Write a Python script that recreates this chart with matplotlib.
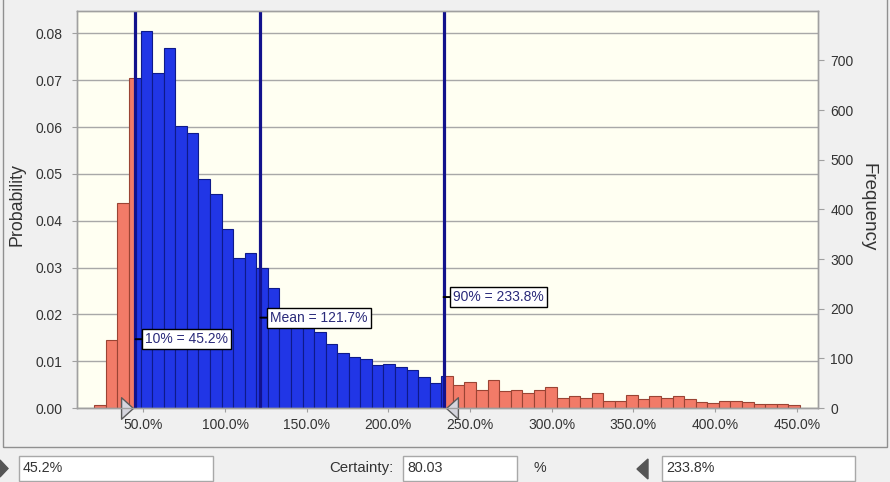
import matplotlib
matplotlib.use("Agg")
import matplotlib.pyplot as plt
import matplotlib.transforms as mtransforms
from matplotlib.patches import Rectangle, Polygon
from matplotlib.path import Path
import numpy as np

plt.rcParams['font.family'] = ['Liberation Sans', 'DejaVu Sans']

# forecast histogram (x in percent)
bin_start = 20.0
bin_width = 7.08
probability = [
    0.0006, 0.0146, 0.0438, 0.0705, 0.0806, 0.0716, 0.0769, 0.0602, 0.0588, 0.0489,
    0.0458, 0.0382, 0.0321, 0.0331, 0.0299, 0.0257, 0.0190, 0.0186, 0.0180, 0.0162,
    0.0136, 0.0118, 0.0110, 0.0104, 0.0091, 0.0093, 0.0088, 0.0081, 0.0066, 0.0053,
    0.0068, 0.0050, 0.0056, 0.0039, 0.0059, 0.0036, 0.0039, 0.0031, 0.0039, 0.0045,
    0.0021, 0.0025, 0.0021, 0.0031, 0.0016, 0.0016, 0.0028, 0.0019, 0.0025, 0.0022,
    0.0025, 0.0019, 0.0012, 0.0011, 0.0014, 0.0014, 0.0012, 0.0009, 0.0009, 0.0009,
    0.0006,
]
trials_shown = 9430  # frequency = probability * trials_shown

p10 = 45.2
mean_val = 121.7
p90 = 233.8
certainty = 80.03

x_ticks = [50, 100, 150, 200, 250, 300, 350, 400, 450]
prob_ticks = [0.00, 0.01, 0.02, 0.03, 0.04, 0.05, 0.06, 0.07, 0.08]
freq_ticks = [0, 100, 200, 300, 400, 500, 600, 700]

BLUE = '#2136E6'
BLUE_EDGE = '#0E1A8A'
RED = '#F27B68'
RED_EDGE = '#9A4434'
LINE = '#12128C'
GRID = '#A8A8A8'
TXT = '#333333'

W, H = 890, 482


def fx(px):
    return px / W


def fy(py):
    return 1 - py / H


fig = plt.figure(figsize=(W / 100, H / 100), dpi=100, facecolor='#F0F0F0')
ax = fig.add_axes([fx(77), fy(408), (818 - 77) / W, (408 - 11) / H])
ax.set_facecolor('#FFFFF2')

# split every bin into the part inside / outside the certainty range
blue_x, blue_w, blue_h = [], [], []
red_x, red_w, red_h = [], [], []
for k, h in enumerate(probability):
    lo = bin_start + k * bin_width
    hi = lo + bin_width
    if lo < p10:
        red_x.append(lo)
        red_w.append(min(hi, p10) - lo)
        red_h.append(h)
    if hi > p90:
        r0 = max(lo, p90)
        red_x.append(r0)
        red_w.append(hi - r0)
        red_h.append(h)
    b0, b1 = max(lo, p10), min(hi, p90)
    if b1 > b0:
        blue_x.append(b0)
        blue_w.append(b1 - b0)
        blue_h.append(h)

ax.bar(red_x, red_h, red_w, align='edge', color=RED, edgecolor=RED_EDGE, lw=0.8, zorder=2)
ax.bar(blue_x, blue_h, blue_w, align='edge', color=BLUE, edgecolor=BLUE_EDGE, lw=0.8, zorder=2)

for v in (p10, mean_val, p90):
    ax.axvline(v, color=LINE, lw=2.3, zorder=4)

box = dict(boxstyle='square,pad=0.22', fc='white', ec='black', lw=1)
arrow = dict(arrowstyle='-', color='black', lw=1.4, shrinkA=0, shrinkB=0)
for label, xv, yv in [(f"10% = {p10:.1f}%", p10, 0.0147),
                      (f"Mean = {mean_val:.1f}%", mean_val, 0.0193),
                      (f"90% = {p90:.1f}%", p90, 0.0237)]:
    ax.annotate(label, xy=(xv, yv), xytext=(7, 0), textcoords='offset points',
                ha='left', va='center', fontsize=10, color='#2A2A7A',
                bbox=box, arrowprops=arrow, zorder=5)

# grab handles at the certainty bounds
tri_right = Path([(-0.55, -1), (0.55, 0), (-0.55, 1), (-0.55, -1)],
                 [Path.MOVETO, Path.LINETO, Path.LINETO, Path.CLOSEPOLY])
tri_left = Path([(0.55, -1), (-0.55, 0), (0.55, 1), (0.55, -1)],
                [Path.MOVETO, Path.LINETO, Path.LINETO, Path.CLOSEPOLY])
t_left = mtransforms.offset_copy(ax.transData, fig=fig, x=-8, y=0, units='dots')
t_right = mtransforms.offset_copy(ax.transData, fig=fig, x=8, y=0, units='dots')
ax.plot([p10], [0], marker=tri_right, ms=15.5, mfc='#D6D6DE', mec='#5A5A5A', mew=1,
        clip_on=False, transform=t_left, zorder=6, ls='none')
ax.plot([p90], [0], marker=tri_left, ms=15.5, mfc='#D6D6DE', mec='#5A5A5A', mew=1,
        clip_on=False, transform=t_right, zorder=6, ls='none')

ylim_top = 0.0848
ax.set_xlim(9.4, 463.0)
ax.set_ylim(0, ylim_top)
ax.set_xticks(x_ticks)
ax.set_xticklabels([f"{t:.1f}%" for t in x_ticks])
ax.set_yticks(prob_ticks)
ax.set_yticklabels([f"{t:.2f}" for t in prob_ticks])
ax.yaxis.grid(True, color=GRID, lw=1)
ax.set_axisbelow(True)
ax.tick_params(axis='x', direction='out', length=3, color='#A0A0A0',
               labelsize=10, labelcolor=TXT, pad=4)
ax.tick_params(axis='y', direction='out', length=3.6, color='#A0A0A0',
               labelsize=10, labelcolor=TXT, pad=7)

ax2 = ax.twinx()
ax2.set_ylim(0, ylim_top * trials_shown)
ax2.set_yticks(freq_ticks)
ax2.tick_params(axis='y', direction='out', length=4, color='#A0A0A0',
                labelsize=10, labelcolor=TXT, pad=5)
for a in (ax, ax2):
    for s in a.spines.values():
        s.set_color('#A0A0A0')
        s.set_linewidth(1)

fig.text(fx(17), fy(205), 'Probability', rotation=90, ha='center', va='center',
         fontsize=12.8, color=TXT)
fig.text(fx(868), fy(207), 'Frequency', rotation=-90, ha='center', va='center',
         fontsize=13.5, color=TXT)

# chart panel frame
fig.add_artist(Rectangle((fx(3), fy(447)), (887 - 3) / W, 447 / H + 0.01,
                         transform=fig.transFigure, fill=False, ec='#909090', lw=1))

# lower control strip


def px_box(x0, y0, x1, y1):
    fig.add_artist(Rectangle((fx(x0), fy(y1)), (x1 - x0) / W, (y1 - y0) / H,
                             transform=fig.transFigure, fc='white', ec='#A8A8A8', lw=1))


px_box(19, 456, 213, 481)
px_box(403, 456, 517, 481)
px_box(662, 456, 855, 481)
fig.text(fx(23), fy(468), f"{p10:.1f}%", ha='left', va='center', fontsize=10.3, color=TXT)
fig.text(fx(407), fy(468), f"{certainty:.2f}", ha='left', va='center', fontsize=10.3, color=TXT)
fig.text(fx(666), fy(468), f"{p90:.1f}%", ha='left', va='center', fontsize=10.3, color=TXT)
fig.text(fx(393), fy(468), 'Certainty:', ha='right', va='center', fontsize=10.8, color=TXT)
fig.text(fx(533), fy(468), '%', ha='left', va='center', fontsize=10.3, color=TXT)
fig.add_artist(Polygon([(fx(0), fy(460)), (fx(8), fy(468.5)), (fx(0), fy(477))],
                       closed=True, transform=fig.transFigure, fc='#555555', ec='#555555'))
fig.add_artist(Polygon([(fx(648), fy(459)), (fx(637), fy(469)), (fx(648), fy(479))],
                       closed=True, transform=fig.transFigure, fc='#555555', ec='#555555'))

fig.savefig('out.png', dpi=100, facecolor=fig.get_facecolor())
